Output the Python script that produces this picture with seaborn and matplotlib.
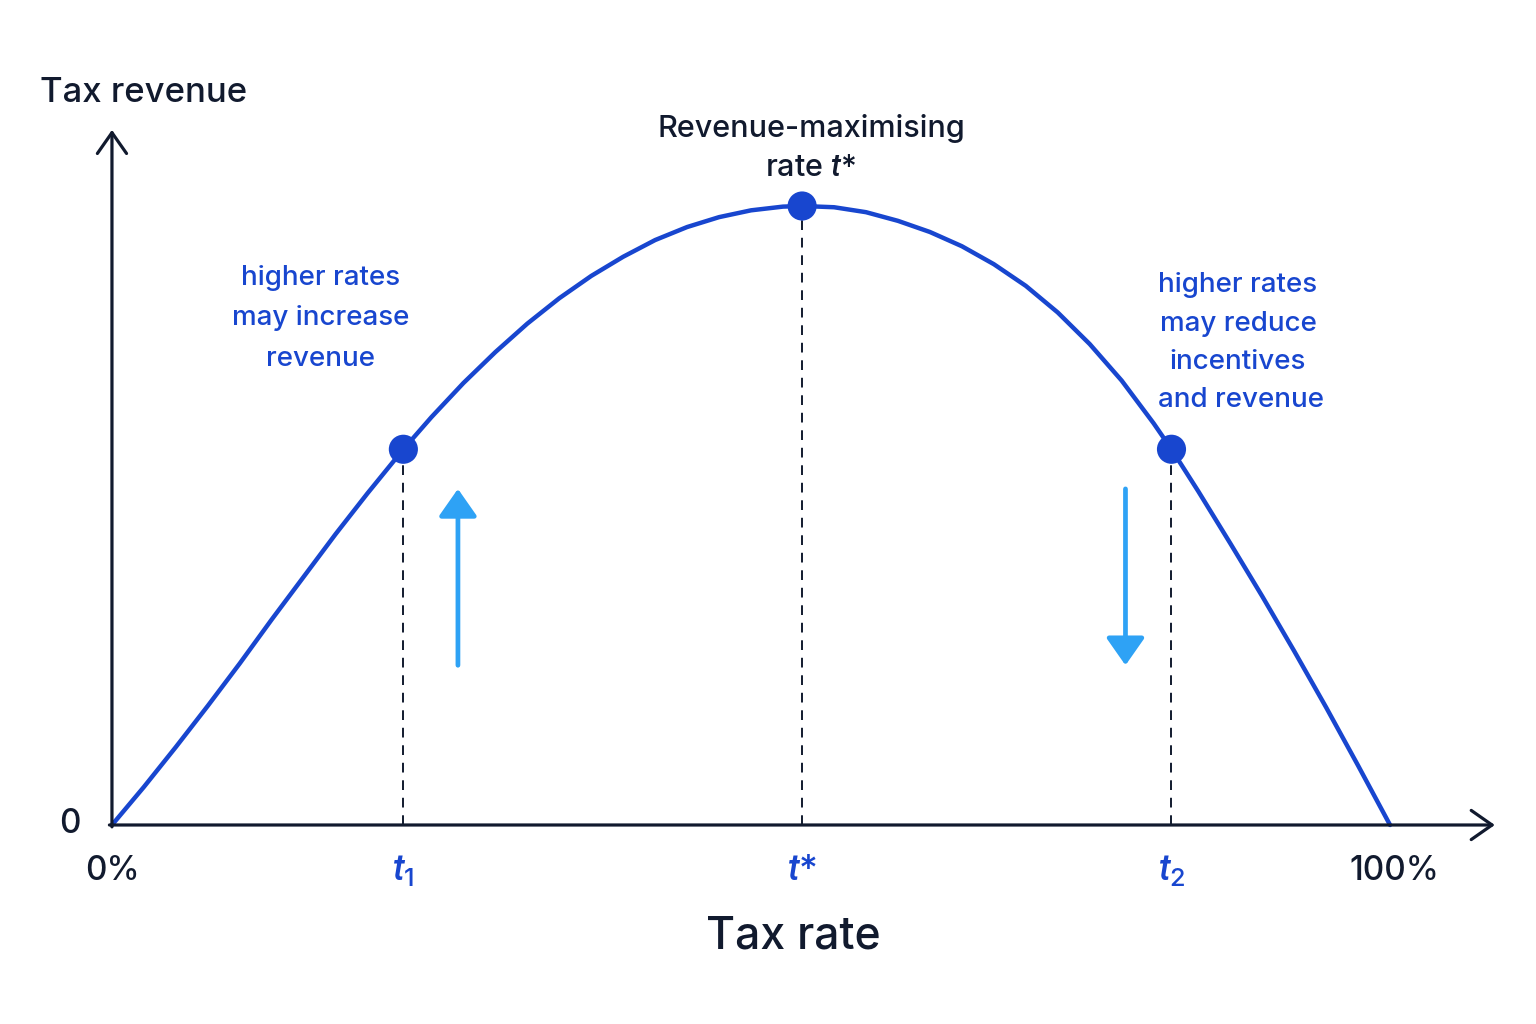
import numpy as np
import pandas as pd
import matplotlib
matplotlib.use("Agg")
import matplotlib.pyplot as plt
import seaborn as sns

# ---- data ----
tax_rate = [0, 2.5, 5, 7.5, 10, 12.5, 15, 17.5, 20, 22.8, 25, 27.5, 30, 32.5, 35,
            37.5, 40, 42.5, 45, 47.5, 50, 52.5, 54, 56.5, 59, 61.5, 64, 66.5, 69,
            71.5, 74, 76.5, 79, 81.5, 82.9, 85, 87.5, 90, 92.5, 95, 97.5, 100]
revenue = [0, 6.15, 12.6, 19.25, 26.1, 33.2, 40.1, 47.0, 53.6, 60.7, 65.9, 71.4, 76.4, 81.0, 85.1,
           88.7, 91.8, 94.5, 96.6, 98.2, 99.3, 99.9, 100, 99.8, 99.0, 97.6, 95.8, 93.5, 90.6,
           87.1, 82.8, 77.7, 71.8, 64.9, 60.7, 53.9, 45.5, 36.95, 28.1, 19.0, 9.6, 0]
point_names = ["t1", "t*", "t2"]
point_x = [22.8, 54.0, 82.9]
point_y = [60.7, 100.0, 60.7]
xtick_pos = [0, 22.8, 54.0, 82.9, 100]
xtick_labels = ["0%", r"$t_1$", r"$t$*", r"$t_2$", "100%"]

NAVY = "#111a2e"
BLUE = "#1846cf"
LIGHT = "#2ea2f5"

sns.set_theme(style="white")
plt.rcParams["font.family"] = ["Inter", "DejaVu Sans"]
plt.rcParams["font.weight"] = "medium"
plt.rcParams["mathtext.fontset"] = "custom"
plt.rcParams["mathtext.it"] = "Roboto:italic:medium"
plt.rcParams["mathtext.rm"] = "Inter:medium"

fig = plt.figure(figsize=(15.36, 10.24), dpi=100)
fig.patch.set_facecolor("white")
ax = fig.add_axes([0, 0, 1, 1])

# curve
df = pd.DataFrame({"rate": tax_rate, "revenue": revenue})
sns.lineplot(data=df, x="rate", y="revenue", ax=ax, color=BLUE, lw=3.2,
             sort=False, zorder=3)
pts = pd.DataFrame({"name": point_names, "x": point_x, "y": point_y})
sns.scatterplot(data=pts, x="x", y="y", ax=ax, color=BLUE, s=440,
                edgecolor="none", zorder=4)

ax.set_xlim(-8.76, 111.42)
ax.set_ylim(-32.15, 133.28)
ax.axis("off")

# axes with arrows
ax.annotate("", xy=(0, 112.3), xytext=(0, -0.3),
            arrowprops=dict(arrowstyle="->,head_length=0.5,head_width=0.35", lw=2.3,
                            color=NAVY, mutation_scale=30, shrinkA=0, shrinkB=0))
ax.annotate("", xy=(108.2, 0), xytext=(-0.2, 0),
            arrowprops=dict(arrowstyle="->,head_length=0.5,head_width=0.35", lw=2.3,
                            color=NAVY, mutation_scale=30, shrinkA=0, shrinkB=0))

# dashed guide lines
for px, py in zip(point_x, point_y):
    ax.plot([px, px], [0, py], color=NAVY, lw=1.4, ls=(0, (5, 4)), zorder=2)

# direction arrows
ax.annotate("", xy=(27.07, 54.3), xytext=(27.07, 25.8),
            arrowprops=dict(arrowstyle="-|>,head_length=0.6,head_width=0.42", lw=3.4,
                            color=LIGHT, mutation_scale=28, shrinkA=0, shrinkB=0))
ax.annotate("", xy=(79.3, 25.8), xytext=(79.3, 54.3),
            arrowprops=dict(arrowstyle="-|>,head_length=0.6,head_width=0.42", lw=3.4,
                            color=LIGHT, mutation_scale=28, shrinkA=0, shrinkB=0))

# texts
ax.text(-5.63, 116.8, "Tax revenue", fontsize=25, color=NAVY, ha="left", va="baseline")
ax.text(54.7, 111.1, "Revenue-maximising", fontsize=22, color=NAVY, ha="center", va="baseline")
ax.text(54.7, 104.8, r"rate $t$*", fontsize=22, color=NAVY, ha="center", va="baseline")

for txt, yy in zip(["higher rates", "may increase", "revenue"], [87.2, 80.8, 74.2]):
    ax.text(16.35, yy, txt, fontsize=20, color=BLUE, ha="center", va="baseline")
for txt, yy, xx in zip(["higher rates", "may reduce", "incentives", "and revenue"],
                       [86.1, 79.8, 73.7, 67.5], [88.1, 88.1, 88.1, 88.3]):
    ax.text(xx, yy, txt, fontsize=20, color=BLUE, ha="center", va="baseline")

ax.text(-3.3, -1.3, "0", fontsize=24, color=NAVY, ha="center", va="baseline")
for pos, lab in zip(xtick_pos, xtick_labels):
    col = NAVY if "%" in lab else BLUE
    size = 24 if "%" in lab else 26
    ax.text(pos + (0.3 if "%" in lab and pos > 50 else 0), -8.9, lab, fontsize=size,
            color=col, ha="center", va="baseline")
ax.text(53.3, -19.9, "Tax rate", fontsize=32, color=NAVY, ha="center", va="baseline")

fig.savefig("out.png", dpi=100, facecolor="white")
